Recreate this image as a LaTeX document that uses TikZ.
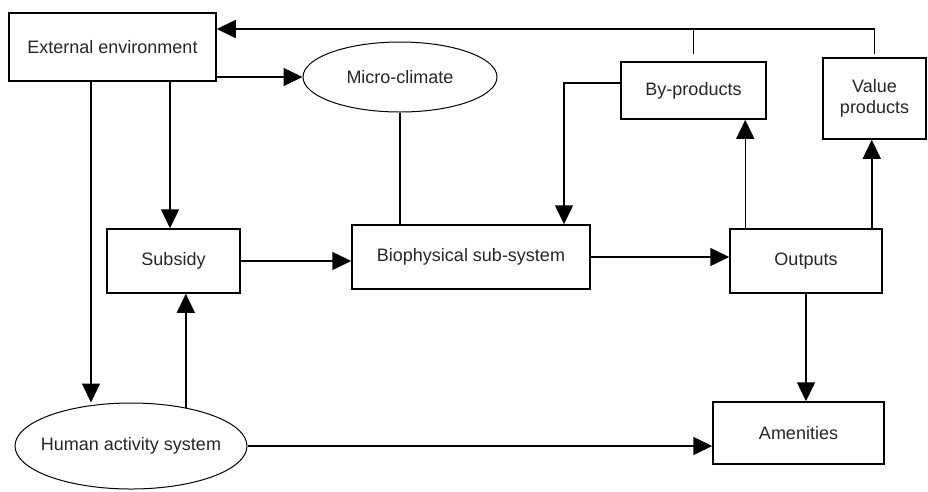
\documentclass[tikz,border=0pt]{standalone}
\usepackage{fontspec}
\setmainfont{Liberation Sans}
\usetikzlibrary{arrows.meta,shapes.geometric}
\begin{document}
\begin{tikzpicture}[x=1pt,y=-1pt,
  every node/.style={font=\fontsize{18}{21}\selectfont, text=black!85, inner sep=0pt, align=center},
  box/.style={draw, rectangle, line width=1.5pt},
  oval/.style={draw, ellipse, line width=1pt},
  conn/.style={line width=1.5pt},
  arr/.style={conn, -{Triangle[length=19pt,width=18pt]}}]
\useasboundingbox (0,0) rectangle (928,491);
\node[box, minimum width=207pt, minimum height=68pt] (ext) at (112.5,47) {External environment};
\node[oval, minimum width=194pt, minimum height=70pt] (micro) at (400,77) {\makebox[0pt]{Micro-climate}};
\node[box, minimum width=145pt, minimum height=57pt] (byp) at (693.5,90.5) {By-products};
\node[box, minimum width=103pt, minimum height=81pt] (vp) at (874.5,98.5) {Value\\products};
\node[box, minimum width=133pt, minimum height=64pt] (sub) at (173.5,261) {Subsidy};
\node[box, minimum width=238pt, minimum height=64pt] (bio) at (471,257) {Biophysical sub-system};
\node[box, minimum width=152pt, minimum height=64pt] (out) at (806,261) {Outputs};
\node[box, minimum width=171pt, minimum height=62pt] (amen) at (798.5,433) {Amenities};
\node[oval, minimum width=232pt, minimum height=86pt] (hum) at (131,446) {\makebox[0pt]{Human activity system}};
\coordinate (top) at (0,29);
\coordinate (bx) at (564,0);
\coordinate (hx) at (91,0);
\coordinate (sx) at (170,0);
% connectors
\draw[arr] (ext.east |- micro.west) -- (micro.west);
\draw[arr] (ext.south -| sx) -- (sx |- sub.north);
\draw[arr] (ext.south -| hx) -- (hx |- hum.north);
\draw[arr] (hum.35) -- (hum.35 |- sub.south);
\draw[arr] (hum.east) -- (hum.east -| amen.west);
\draw[arr] (sub.east) -- (sub.east -| bio.west);
\draw[conn] (micro.south) -- (micro.south |- bio.north);
\draw[arr] (bio.east) -- (bio.east -| out.west);
\draw[arr] ([xshift=16pt]out.north west) -- ([xshift=16pt]out.north west |- byp.south);
\draw[arr] ([xshift=-11pt]out.north east) -- ([xshift=-11pt]out.north east |- vp.south);
\draw[arr] (out.south) -- (out.south |- amen.north);
\draw[arr] ([yshift=7.5pt]byp.west) -| (bx |- bio.north);
\draw[arr, shorten <=3pt] (vp.north) |- (ext.east |- top);
\draw[conn, shorten <=7pt] (byp.north) -- (byp.north |- top);
\end{tikzpicture}
\end{document}
